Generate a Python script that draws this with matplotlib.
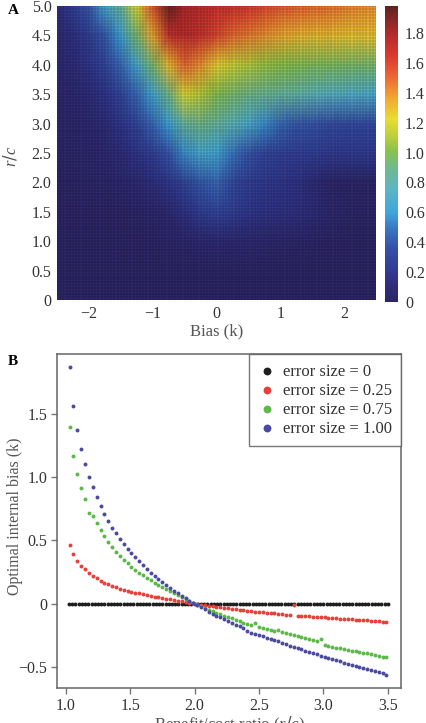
import numpy as np
import matplotlib
matplotlib.use("Agg")
from matplotlib import pyplot as plt
from matplotlib.colors import LinearSegmentedColormap

plt.rcParams['font.family'] = ['Liberation Serif', 'DejaVu Serif']
plt.rcParams['mathtext.fontset'] = 'custom'
plt.rcParams['mathtext.it'] = 'Liberation Serif:italic'

# ---------------- panel A data ----------------
bias_k = [-2.5, -2.25, -2.0, -1.75, -1.5, -1.25, -1.0, -0.75, -0.5, -0.25, 0.0,
          0.25, 0.5, 0.75, 1.0, 1.25, 1.5, 1.75, 2.0, 2.25, 2.5]
rc_levels = [0.0, 0.5, 1.0, 1.5, 2.0, 2.5, 3.0, 3.5, 4.0, 4.5, 5.0]
payoff = [
    [0.02, 0.02, 0.02, 0.02, 0.02, 0.02, 0.02, 0.02, 0.02, 0.02, 0.02,
     0.02, 0.02, 0.02, 0.02, 0.02, 0.02, 0.02, 0.02, 0.02, 0.02],
    [0.02, 0.02, 0.02, 0.02, 0.02, 0.02, 0.02, 0.02, 0.02, 0.02, 0.03,
     0.02, 0.02, 0.02, 0.02, 0.02, 0.02, 0.02, 0.02, 0.02, 0.02],
    [0.02, 0.02, 0.02, 0.02, 0.03, 0.03, 0.04, 0.05, 0.06, 0.08, 0.10,
     0.09, 0.08, 0.07, 0.06, 0.05, 0.04, 0.03, 0.03, 0.02, 0.02],
    [0.03, 0.03, 0.03, 0.03, 0.03, 0.04, 0.06, 0.10, 0.16, 0.24, 0.30,
     0.25, 0.20, 0.17, 0.16, 0.15, 0.12, 0.08, 0.05, 0.04, 0.04],
    [0.03, 0.04, 0.05, 0.05, 0.07, 0.10, 0.14, 0.20, 0.30, 0.40, 0.45,
     0.33, 0.25, 0.21, 0.19, 0.17, 0.12, 0.06, 0.04, 0.04, 0.04],
    [0.04, 0.05, 0.06, 0.08, 0.12, 0.18, 0.25, 0.38, 0.55, 0.65, 0.62,
     0.50, 0.38, 0.30, 0.27, 0.25, 0.24, 0.23, 0.22, 0.22, 0.22],
    [0.05, 0.06, 0.08, 0.12, 0.20, 0.30, 0.45, 0.60, 0.85, 0.90, 0.85,
     0.78, 0.68, 0.55, 0.45, 0.40, 0.38, 0.35, 0.33, 0.32, 0.32],
    [0.06, 0.08, 0.12, 0.18, 0.30, 0.45, 0.62, 0.90, 1.20, 1.10, 1.00,
     0.95, 0.90, 0.88, 0.85, 0.82, 0.78, 0.75, 0.72, 0.70, 0.68],
    [0.08, 0.12, 0.18, 0.30, 0.45, 0.65, 0.95, 1.30, 1.50, 1.40, 1.25,
     1.15, 1.10, 1.05, 1.02, 1.00, 0.98, 0.97, 0.96, 0.95, 0.95],
    [0.10, 0.15, 0.25, 0.40, 0.60, 0.95, 1.35, 1.70, 1.75, 1.70, 1.60,
     1.50, 1.45, 1.40, 1.35, 1.32, 1.30, 1.30, 1.28, 1.28, 1.28],
    [0.12, 0.25, 0.40, 0.65, 0.85, 1.20, 1.55, 1.95, 1.80, 1.75, 1.70,
     1.68, 1.65, 1.60, 1.55, 1.52, 1.50, 1.48, 1.45, 1.42, 1.40],
]
cbar_ticks = [0, 0.2, 0.4, 0.6, 0.8, 1.0, 1.2, 1.4, 1.6, 1.8]
cbar_labels = ['0', '0.2', '0.4', '0.6', '0.8', '1.0', '1.2', '1.4', '1.6', '1.8']

# ---------------- panel B data ----------------
ratio = np.round(1.03 + 0.03 * np.arange(83), 2)
ratio_black = np.round(1.025 + 0.025 * np.arange(100), 3)
err_0 = [0.0] * len(ratio_black)
err_025 = [0.467, 0.388, 0.34, 0.30, 0.27, 0.243, 0.22, 0.20, 0.182, 0.166,
           0.152, 0.14, 0.129, 0.119, 0.11, 0.102, 0.094, 0.087, 0.08, 0.073,
           0.067, 0.061, 0.055, 0.049, 0.044, 0.038, 0.033, 0.028, 0.023, 0.018,
           0.013, 0.008, 0.003, -0.003, -0.008, -0.012, -0.017, -0.021, -0.025, -0.03,
           -0.034, -0.038, -0.042, -0.046, -0.05, -0.053, -0.057, -0.06, -0.063, -0.066,
           -0.069, -0.072, -0.075, -0.078, -0.081, -0.084, -0.087, -0.09, -0.01, -0.095,
           -0.097, -0.099, -0.101, -0.103, -0.105, -0.108, -0.11, -0.112, -0.114, -0.117,
           -0.119, -0.121, -0.123, -0.125, -0.127, -0.129, -0.131, -0.133, -0.135, -0.137,
           -0.139, -0.142, -0.145]
err_075 = [1.40, 1.17, 1.025, 0.915, 0.825, 0.72, 0.69, 0.635, 0.58, 0.535,
           0.49, 0.45, 0.41, 0.378, 0.348, 0.318, 0.292, 0.268, 0.245, 0.223,
           0.203, 0.183, 0.165, 0.147, 0.13, 0.113, 0.096, 0.08, 0.064, 0.048,
           0.033, 0.018, 0.004, -0.01, -0.023, -0.036, -0.048, -0.06, -0.072, -0.083,
           -0.095, -0.106, -0.117, -0.127, -0.138, -0.15, -0.162, -0.172, -0.153, -0.188,
           -0.195, -0.202, -0.209, -0.216, -0.21, -0.228, -0.236, -0.243, -0.25, -0.257,
           -0.264, -0.271, -0.28, -0.29, -0.30, -0.278, -0.33, -0.336, -0.342, -0.348,
           -0.354, -0.36, -0.366, -0.372, -0.377, -0.383, -0.389, -0.395, -0.401, -0.407,
           -0.413, -0.419, -0.425]
err_100 = [1.87, 1.56, 1.37, 1.22, 1.10, 1.00, 0.92, 0.84, 0.77, 0.71,
           0.655, 0.60, 0.555, 0.51, 0.47, 0.435, 0.40, 0.365, 0.335, 0.305,
           0.275, 0.245, 0.22, 0.195, 0.17, 0.145, 0.125, 0.10, 0.08, 0.06,
           0.04, 0.02, 0.005, -0.012, -0.03, -0.047, -0.063, -0.08, -0.095, -0.11,
           -0.125, -0.14, -0.155, -0.167, -0.18, -0.193, -0.215, -0.23, -0.24, -0.25,
           -0.258, -0.27, -0.28, -0.29, -0.30, -0.311, -0.322, -0.333, -0.343, -0.353,
           -0.363, -0.373, -0.383, -0.392, -0.402, -0.412, -0.422, -0.431, -0.44, -0.449,
           -0.458, -0.467, -0.476, -0.485, -0.493, -0.502, -0.51, -0.518, -0.526, -0.534,
           -0.542, -0.55, -0.565]

series = [
    (ratio_black, err_0, '#1e1e1e', 'error size = 0'),
    (ratio, err_025, '#e5413b', 'error size = 0.25'),
    (ratio, err_075, '#5cb849', 'error size = 0.75'),
    (ratio, err_100, '#4b4a9e', 'error size = 1.00'),
]

# colour map sampled from the colour bar
cb_colors = [(0.0, '#2d2664'), (0.05, '#302c78'), (0.1, '#323a92'),
             (0.18, '#3750a8'), (0.25, '#3b78c4'), (0.3, '#3fa6dc'),
             (0.38, '#5bb5c4'), (0.45, '#70b890'), (0.51, '#88c24c'),
             (0.57, '#c4d23a'), (0.62, '#e8dc32'), (0.69, '#f2a632'),
             (0.76, '#ec6834'), (0.83, '#dc3a30'), (0.91, '#b02a2c'),
             (1.0, '#5e2222')]
cmap = LinearSegmentedColormap.from_list('bias', cb_colors)

fig = plt.figure(figsize=(4.27, 7.23), dpi=100)
tick_col = '#333333'
lab_col = '#555555'

# ---------------- panel A ----------------
ax_a = fig.add_axes([0.1335, 0.585, 0.747, 0.4066])
mesh = ax_a.pcolormesh(bias_k, rc_levels, np.array(payoff), cmap=cmap,
                       vmin=0, vmax=1.98, shading='gouraud')
# thin dark cell lines of the original simulation grid
cells = np.round(np.arange(-2.5, 2.5001, 0.05), 3)
ax_a.vlines(cells, 0, 5, colors='k', linewidth=0.35, alpha=0.35)
ax_a.hlines(np.round(np.arange(0, 5.0001, 0.05), 3), -2.5, 2.5,
            colors='k', linewidth=0.35, alpha=0.35)
ax_a.set_xlim(-2.5, 2.5)
ax_a.set_ylim(0, 5)
ax_a.set_xticks([-2, -1, 0, 1, 2])
ax_a.set_xticklabels(['\u22122', '\u22121', '0', '1', '2'])
ax_a.set_yticks([0, 0.5, 1, 1.5, 2, 2.5, 3, 3.5, 4, 4.5, 5])
ax_a.set_yticklabels(['0', '0.5', '1.0', '1.5', '2.0', '2.5', '3.0', '3.5',
                      '4.0', '4.5', '5.0'])
ax_a.tick_params(length=0, labelsize=11.5, colors=tick_col, pad=4)
for s in ax_a.spines.values():
    s.set_visible(False)
ax_a.set_xlabel('Bias (k)', fontsize=12, color=lab_col, labelpad=1)
ax_a.set_ylabel('$r/c$', fontsize=12, color=lab_col)
ax_a.yaxis.set_label_coords(-0.118, 0.49)

cax = fig.add_axes([0.9016, 0.5823, 0.0304, 0.4094])
cb = fig.colorbar(mesh, cax=cax, ticks=cbar_ticks)
cb.set_ticklabels(cbar_labels)
cb.outline.set_visible(False)
cax.tick_params(length=0, labelsize=11.5, colors=tick_col, pad=5)

# ---------------- panel B ----------------
ax_b = fig.add_axes([0.1335, 0.0484, 0.8056, 0.462])
for xs, ys, col, lab in series:
    ax_b.scatter(xs, ys, s=8, color=col, linewidths=0, label=lab, zorder=3)
ax_b.set_xlim(0.932, 3.603)
ax_b.set_ylim(-0.668, 1.974)
ax_b.set_xticks([1.0, 1.5, 2.0, 2.5, 3.0, 3.5])
ax_b.set_xticklabels(['1.0', '1.5', '2.0', '2.5', '3.0', '3.5'])
ax_b.set_yticks([-0.5, 0, 0.5, 1.0, 1.5])
ax_b.set_yticklabels(['\u22120.5', '0', '0.5', '1.0', '1.5'])
ax_b.tick_params(direction='out', length=4, width=1, color='#777777',
                 labelsize=11.5, labelcolor=tick_col, pad=3)
for s in ax_b.spines.values():
    s.set_color('#666666')
    s.set_linewidth(1.1)
ax_b.set_xlabel('Benefit/cost ratio ($r/c$)', fontsize=12, color=lab_col,
                labelpad=1)
ax_b.set_ylabel('Optimal internal bias (k)', fontsize=11.5, color=lab_col)
ax_b.yaxis.set_label_coords(-0.1, 0.515)
leg = ax_b.legend(loc='upper right', borderaxespad=0, fancybox=False,
                  fontsize=12, markerscale=2.0, handletextpad=0.45,
                  labelspacing=0.15, borderpad=0.55, handlelength=1.0,
                  handleheight=0.9, labelcolor='#333333')
leg.get_frame().set_edgecolor('#555555')
leg.get_frame().set_linewidth(1.0)

fig.text(0.018, 0.986, 'A', fontsize=11, fontweight='bold', va='center')
fig.text(0.018, 0.5, 'B', fontsize=11, fontweight='bold', va='center')

fig.savefig('out.png', dpi=100)
